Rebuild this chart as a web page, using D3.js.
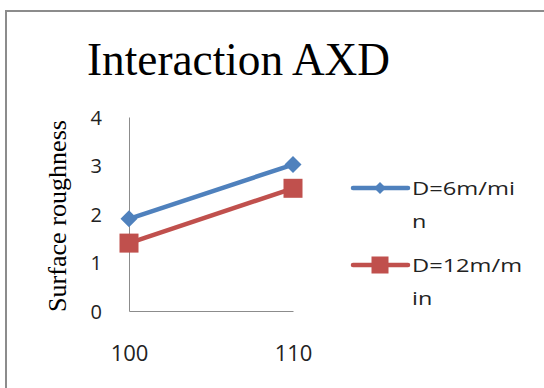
<!DOCTYPE html>
<html>
<head>
<meta charset="utf-8">
<script src="https://cdn.jsdelivr.net/npm/d3@7"></script>
<style>
  html, body { margin: 0; padding: 0; background: #ffffff; }
  svg { display: block; }
</style>
</head>
<body>
<div id="chart"></div>
<script>
// Surface roughness: interaction of A (cutting speed) and D (feed)
const categories = ["100", "110"];
const seriesNames = ["D=6m/min", "D=12m/min"];
const seriesLabelLines = [["D=6m/mi", "n"], ["D=12m/m", "in"]];
const seriesD6 = [1.9, 3.02];
const seriesD12 = [1.4, 2.53];
const yTicks = [0, 1, 2, 3, 4];
const titleText = "Interaction AXD";
const yAxisTitle = "Surface roughness";

const W = 544, H = 388;
const colors = ["#4F81BD", "#C0504D"];
const series = [
  { name: seriesNames[0], values: seriesD6, color: colors[0], marker: "diamond", lines: seriesLabelLines[0] },
  { name: seriesNames[1], values: seriesD12, color: colors[1], marker: "square", lines: seriesLabelLines[1] }
];

const svg = d3.select("#chart").append("svg")
  .attr("width", W).attr("height", H);

// Chart area frame
svg.append("rect")
  .attr("x", 6).attr("y", 11)
  .attr("width", W + 10).attr("height", H + 10)
  .attr("fill", "#ffffff")
  .attr("stroke", "#8c8c8c")
  .attr("stroke-width", 2);

// Title
svg.append("text")
  .attr("x", 87).attr("y", 75)
  .style("font-family", "'Liberation Serif', 'Times New Roman', serif")
  .style("font-size", "46px")
  .attr("fill", "#000")
  .attr("textLength", 303)
  .attr("lengthAdjust", "spacingAndGlyphs")
  .text(titleText);

// Plot area
const plot = { left: 129, right: 293, top: 117, bottom: 311 };

const x = d3.scalePoint()
  .domain(categories)
  .range([plot.left, plot.right])
  .padding(0);

const y = d3.scaleLinear()
  .domain([0, 4])
  .range([plot.bottom, plot.top]);

const sansFont = "'Open Sans', 'Liberation Sans', sans-serif";

// Y axis
const yAxis = svg.append("g")
  .attr("transform", `translate(${plot.left},0)`)
  .call(d3.axisLeft(y).tickValues(yTicks).tickSize(0).tickPadding(27).tickFormat(d3.format("d")));
yAxis.select(".domain").attr("stroke", "#8c8c8c").attr("stroke-width", 1);
yAxis.selectAll("text")
  .style("font-family", sansFont)
  .style("font-size", "20px")
  .attr("fill", "#222")
  .attr("dy", "0.36em");

// X axis
const xAxis = svg.append("g")
  .attr("transform", `translate(0,${plot.bottom})`)
  .call(d3.axisBottom(x).tickSize(0).tickPadding(34));
xAxis.select(".domain").attr("stroke", "#8c8c8c").attr("stroke-width", 1);
xAxis.selectAll("text")
  .style("font-family", sansFont)
  .style("font-size", "22px")
  .attr("fill", "#222");

// Y axis title
svg.append("text")
  .attr("transform", `translate(66,${(plot.top + plot.bottom) / 2 + 2}) rotate(-90)`)
  .attr("text-anchor", "middle")
  .style("font-family", "'Liberation Serif', 'Times New Roman', serif")
  .style("font-size", "26px")
  .attr("fill", "#000")
  .attr("textLength", 192)
  .attr("lengthAdjust", "spacingAndGlyphs")
  .text(yAxisTitle);

// Marker drawing helper
function drawMarker(g, type, cx, cy, color, size) {
  if (type === "diamond") {
    const h = size / 2;
    g.append("path")
      .attr("d", `M${cx},${cy - h}L${cx + h},${cy}L${cx},${cy + h}L${cx - h},${cy}Z`)
      .attr("fill", color);
  } else {
    g.append("rect")
      .attr("x", cx - size / 2).attr("y", cy - size / 2)
      .attr("width", size).attr("height", size)
      .attr("fill", color);
  }
}

const line = d3.line()
  .x((d, i) => x(categories[i]))
  .y(d => y(d));

series.forEach(s => {
  const g = svg.append("g");
  g.append("path")
    .datum(s.values)
    .attr("d", line)
    .attr("fill", "none")
    .attr("stroke", s.color)
    .attr("stroke-width", 4.5)
    .attr("stroke-linejoin", "round");
  s.values.forEach((v, i) => {
    drawMarker(g, s.marker, x(categories[i]), y(v), s.color, s.marker === "diamond" ? 17 : 19);
  });
});

// Legend
const legendRows = [188, 265];
const legendFirstLineLength = [103, 110];
series.forEach((s, i) => {
  const g = svg.append("g");
  const ly = legendRows[i];
  g.append("line")
    .attr("x1", 353).attr("x2", 408)
    .attr("y1", ly).attr("y2", ly)
    .attr("stroke", s.color)
    .attr("stroke-width", 4.5)
    .attr("stroke-linecap", "round");
  drawMarker(g, s.marker, 380, ly, s.color, s.marker === "diamond" ? 12 : 17);
  s.lines.forEach((txt, j) => {
    const t = g.append("text")
      .attr("x", 412)
      .attr("y", ly + 7 + j * 33)
      .style("font-family", sansFont)
      .style("font-size", "18px")
      .attr("fill", "#222")
      .text(txt);
    if (j === 0) {
      t.attr("textLength", legendFirstLineLength[i])
        .attr("lengthAdjust", "spacingAndGlyphs");
    } else {
      t.attr("transform", `translate(${412 * -0.3},0) scale(1.3,1)`);
    }
  });
});
</script>
</body>
</html>
